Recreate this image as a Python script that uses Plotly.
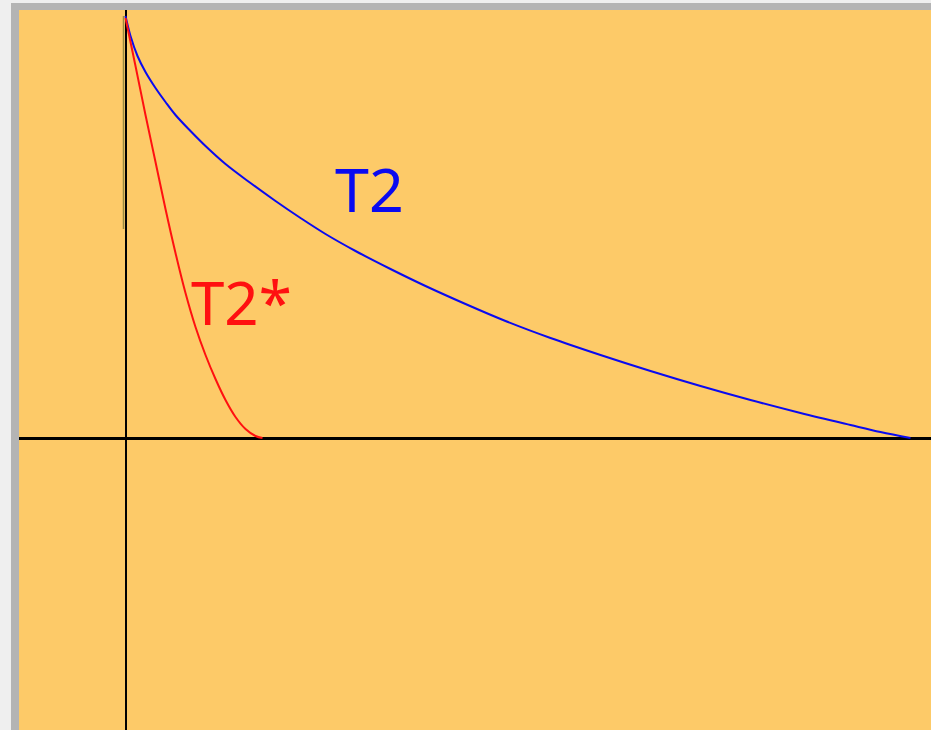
import plotly.graph_objects as go

# Time (px-like units from the origin) and signal values
t2_t = [0, 5, 12, 20, 30, 40, 50, 65, 80, 100, 125, 150, 175, 200, 230, 265, 300, 340, 380, 425, 475, 525, 575, 625, 675, 725, 755, 785]
t2_s = [422, 402, 382, 366, 350, 336, 323, 307, 292, 274, 255, 237, 220, 204, 187, 169, 152, 134, 117, 100, 83, 67, 52, 38, 25, 13, 6, 0]

t2s_t = [0, 10, 20, 30, 40, 50, 60, 70, 80, 90, 100, 110, 120, 130, 137]
t2s_s = [420, 372, 323, 276, 229, 185, 145, 111, 83, 59, 38, 21, 9, 2, 0]

marker_t = [-2, -2]
marker_s = [422, 209]

labels = ["T2", "T2*"]
label_t = [244, 116]
label_s = [250, 136]

fig = go.Figure()
fig.add_trace(go.Scatter(x=marker_t, y=marker_s, mode="lines",
                         line=dict(color="#9A8A40", width=1.5), hoverinfo="skip"))
fig.add_trace(go.Scatter(x=t2_t, y=t2_s, mode="lines", line=dict(color="#0A0AF0", width=2, shape="spline")))
fig.add_trace(go.Scatter(x=t2s_t, y=t2s_s, mode="lines", line=dict(color="#FF1010", width=2, shape="spline")))

fig.add_annotation(x=label_t[0], y=label_s[0], text=labels[0], showarrow=False,
                   font=dict(family="Noto Sans", size=61, color="#0A0AF0"))
fig.add_annotation(x=label_t[1], y=label_s[1], text=labels[1], showarrow=False,
                   font=dict(family="Noto Sans", size=60, color="#FF1010"))

# gray window frame
fig.add_shape(type="rect", xref="paper", yref="paper", x0=-8/912, x1=0, y0=-0.02, y1=1 + 7/720,
              fillcolor="#B4B4B4", line=dict(width=0), layer="below")
fig.add_shape(type="rect", xref="paper", yref="paper", x0=-8/912, x1=1.02, y0=1, y1=1 + 7/720,
              fillcolor="#B4B4B4", line=dict(width=0), layer="below")

fig.update_layout(
    width=931, height=730,
    margin=dict(l=19, r=0, t=10, b=0),
    paper_bgcolor="#EFEFEF",
    plot_bgcolor="#FDCA68",
    showlegend=False,
    hovermode=False,
    xaxis=dict(range=[-106.5, 805.5], showgrid=False, showticklabels=False, ticks="",
               zeroline=True, zerolinecolor="black", zerolinewidth=2, fixedrange=True),
    yaxis=dict(range=[-292, 428], showgrid=False, showticklabels=False, ticks="",
               zeroline=True, zerolinecolor="black", zerolinewidth=3, fixedrange=True),
)

fig.write_html("out.html", config={"displayModeBar": False},
               post_script="document.body.style.margin='0';document.body.style.overflow='hidden';")
